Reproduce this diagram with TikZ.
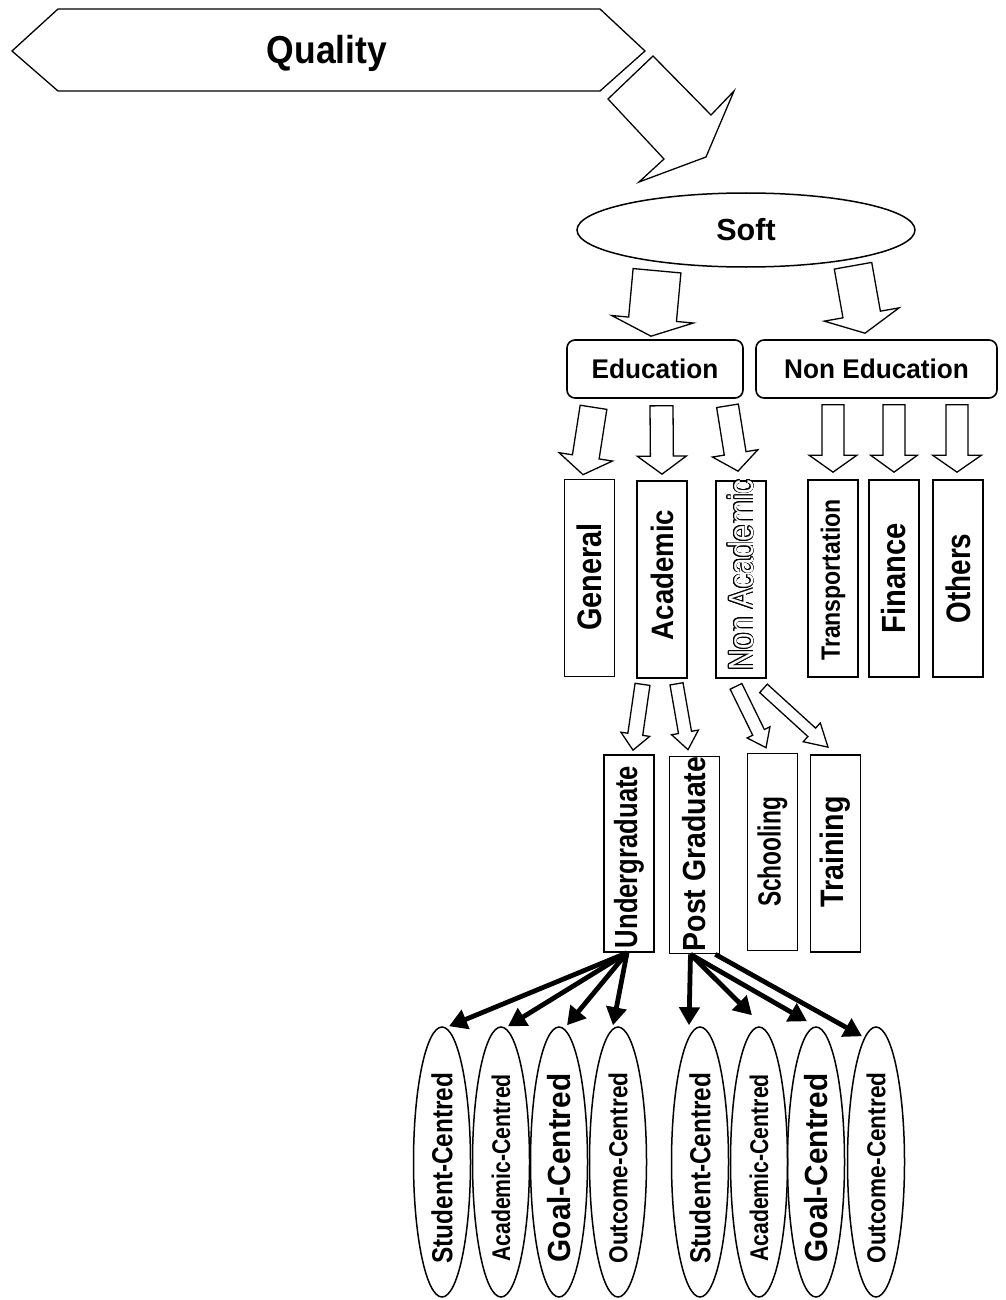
\documentclass[tikz,border=0pt]{standalone}
\usepackage{fontspec}
\setmainfont{Liberation Sans}
\usepackage{graphicx}
\IfFileExists{contour.sty}{\usepackage{contour}\contourlength{0.9pt}}{}
\usetikzlibrary{calc,arrows.meta,shapes.geometric}

% font size in pt (1pt = one unit of the picture)
\newcommand\fs[1]{\fontsize{#1}{#1}\selectfont}
% upright text narrowed by a factor: size, factor, text
\newcommand\narrow[3]{\scalebox{#2}[1]{\fs{#1}#3}}
% text turned to read upwards: size, narrowing, shift downwards (pt), text
\newcommand\vtext[4]{\rotatebox{90}{\makebox[0pt]{\hspace*{-#3pt}\hspace*{-#3pt}\narrow{#1}{#2}{#4}}}}
% hollow lettering
\newcommand\hollowtext[1]{\ifdefined\contour{\color{white}\contour{black}{#1}}\else#1\fi}

% block arrow: start, tip, half tail width, half head width, head length
\newcommand\blockarr[5]{%
  \coordinate (ba-s) at #1;
  \coordinate (ba-e) at #2;
  \coordinate (ba-n) at ($(ba-e)!#5!(ba-s)$);
  \draw[blockline] ($(ba-s)!#3!90:(ba-e)$) -- ($(ba-n)!#3!90:(ba-e)$)
    -- ($(ba-n)!#4!90:(ba-e)$) -- (ba-e) -- ($(ba-n)!#4!-90:(ba-e)$)
    -- ($(ba-n)!#3!-90:(ba-e)$) -- ($(ba-s)!#3!-90:(ba-e)$) -- cycle;
}

\tikzset{
  blockline/.style={draw=black, fill=white, line width=1.3pt, line join=miter},
  tallbox/.style={draw, line width=1.7pt, inner sep=0pt, minimum width=50, minimum height=197},
  headbox/.style={draw, line width=1.6pt, rounded corners=8pt, inner sep=0pt, minimum height=58},
  oval/.style={ellipse, draw, line width=1.5pt, inner sep=0pt, minimum width=57, minimum height=270},
  thickarr/.style={line width=4.8pt, -{Triangle[length=18pt,width=20pt]}},
}

\begin{document}
\begin{tikzpicture}[x=1pt, y=-1pt, font=\bfseries]
\useasboundingbox (0,0) rectangle (1005,1300);
\fill[white] (0,0) rectangle (1005,1300);

% title banner and bent arrow
\draw[blockline] (12,51) -- (58,9) -- (600,9) -- (645,51) -- (600,91) -- (58,91) -- cycle;
\node[anchor=base] (quality) at (327,64) {\narrow{39}{0.91}{Quality}};
\draw[blockline] (608,99) -- (653,56) -- (711,115) -- (734,91) -- (706,157) -- (639,182) -- (664,159) -- cycle;

% first level
\node[ellipse, draw, line width=1.5pt, minimum width=338, minimum height=74, inner sep=0pt]
      (soft) at (746,230) {\raisebox{-4pt}{\narrow{30.5}{1}{Soft}}};
\node[headbox, minimum width=176] (edu) at (655,369) {\narrow{27}{0.97}{Education}};
\node[headbox, minimum width=241] (nonedu) at (876.5,369) {\narrow{27}{0.97}{Non Education}};

% second level
\node[tallbox] (gen)     at (589.5,578)   {\vtext{34}{0.85}{-1}{General}};
\node[tallbox] (acad)    at (662,579.5)   {\vtext{31}{0.89}{-4.5}{Academic}};
\node[tallbox] (nonacad) at (741,579.5)   {\rotatebox{90}{\makebox[0pt]{\hspace*{9pt}\mdseries\narrow{35}{0.84}{\hollowtext{Non Academic}}}}};
\node[tallbox] (trans)   at (833,578.5)   {\vtext{26.5}{0.87}{1.5}{Transportation}};
\node[tallbox] (fin)     at (894,578.5)   {\vtext{33.5}{0.87}{0}{Finance}};
\node[tallbox] (oth)     at (958,578.5)   {\vtext{34}{0.82}{0}{Others}};

% third level
\node[tallbox] (ug)      at (629,853.5)   {\vtext{32}{0.80}{3.5}{Undergraduate}};
\node[tallbox] (pg)      at (694.5,855)   {\vtext{32}{0.89}{-1}{Post Graduate}};
\node[tallbox] (school)  at (772.5,852)   {\vtext{32}{0.71}{0}{Schooling}};
\node[tallbox] (train)   at (835.5,853.5) {\vtext{32.5}{0.88}{-1.5}{Training}};

% fourth level
\node[oval] (s1) at (442,1162) {\vtext{29}{0.84}{6}{Student-Centred}};
\node[oval] (a1) at (501,1162) {\vtext{25.6}{0.83}{6}{Academic-Centred}};
\node[oval] (g1) at (559,1162) {\vtext{32}{0.93}{6}{Goal-Centred}};
\node[oval] (o1) at (618,1162) {\vtext{26}{0.87}{6}{Outcome-Centred}};
\node[oval] (s2) at (700,1162) {\vtext{29}{0.84}{6}{Student-Centred}};
\node[oval] (a2) at (759,1162) {\vtext{25.6}{0.83}{6}{Academic-Centred}};
\node[oval] (g2) at (816,1162) {\vtext{32}{0.93}{6}{Goal-Centred}};
\node[oval] (o2) at (876,1162) {\vtext{26}{0.87}{6}{Outcome-Centred}};

% block arrows
\blockarr{($(soft.south)+(-89,3)$)}{($(edu.north)+(-4,-3)$)}{24pt}{41pt}{17pt}
\blockarr{($(soft.south)+(107,-2)$)}{($(nonedu.north)+(-11.5,-6)$)}{19pt}{38pt}{19pt}
\blockarr{($(edu.south)+(-61.5,8.5)$)}{($(gen.north)+(-6.5,-4)$)}{13.5pt}{27pt}{18pt}
\blockarr{($(edu.south)+(6.5,7)$)}{($(acad.north)+(0,-6)$)}{11.5pt}{24.5pt}{18pt}
\blockarr{($(edu.south)+(72.5,7)$)}{($(nonacad.north)+(-3,-9)$)}{11pt}{23pt}{18pt}
\blockarr{($(nonedu.south)+(-43.5,6)$)}{($(trans.north)+(0,-7)$)}{11pt}{24pt}{17pt}
\blockarr{($(nonedu.south)+(17.5,6)$)}{($(fin.north)+(0,-7)$)}{11pt}{23.5pt}{17pt}
\blockarr{($(nonedu.south)+(80.5,6)$)}{($(oth.north)+(-1,-7)$)}{11pt}{24.5pt}{17pt}
\blockarr{($(acad.south)+(-19.5,5.5)$)}{($(ug.north)+(4,-4)$)}{7.5pt}{14.5pt}{16pt}
\blockarr{($(acad.south)+(14.5,5)$)}{($(pg.north)+(-6.5,-6)$)}{6.6pt}{13.6pt}{17.5pt}
\blockarr{($(nonacad.south)+(-5,7.5)$)}{($(school.north)+(-6.5,-5)$)}{6.5pt}{12.7pt}{17pt}
\blockarr{($(nonacad.south)+(22.5,9.5)$)}{($(train.north)+(-7.5,-7)$)}{5.7pt}{12.7pt}{22pt}

% heavy arrows to the approaches
\draw[thickarr] ($(ug.south)+(-2,0)$) -- ($(s1.north)+(7,0)$);
\draw[thickarr] ($(ug.south)+(-2,0)$) -- ($(a1.north)+(7,0)$);
\draw[thickarr] ($(ug.south)+(-2,0)$) -- ($(g1.north)+(8,-1)$);
\draw[thickarr] ($(ug.south)+(-2,0)$) -- ($(o1.north)+(-5,-1)$);
\draw[thickarr] ($(pg.south)+(-4,0)$) -- ($(s2.north)+(-11,-1)$);
\draw[thickarr] ($(pg.south)+(-4,0)$) -- ($(a2.north)+(-7,-11)$);
\draw[thickarr] ($(pg.south)+(-4,0)$) -- ($(g2.north)+(-9,-5)$);
\draw[thickarr] ($(pg.south east)+(-5,0)$) -- ($(o2.north)+(-14,10)$);
\end{tikzpicture}
\end{document}
